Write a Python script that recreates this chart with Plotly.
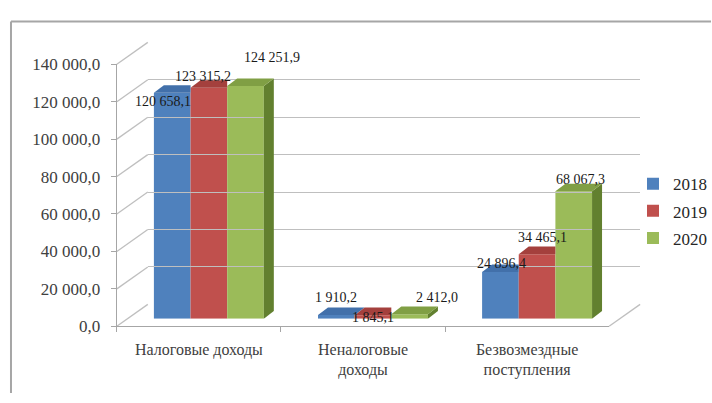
import plotly.graph_objects as go

categories = ["Налоговые доходы", "Неналоговые<br>доходы", "Безвозмездные<br>поступления"]
years = ["2018", "2019", "2020"]
values_2018 = [120658.1, 1910.2, 24896.4]
values_2019 = [123315.2, 1845.1, 34465.1]
values_2020 = [124251.9, 2412.0, 68067.3]
series = [values_2018, values_2019, values_2020]
y_ticks = [0, 20000, 40000, 60000, 80000, 100000, 120000, 140000]

# label placement offsets in pixels (style), per series x category
label_dx = [[-9, 0, 1], [-6, 0, 5], [26, 27, 7]]
label_dy = [[-9, 18, 9], [11, -2, 17], [29, 17, 12]]

front_col = ["#4F81BD", "#C0504D", "#9BBB59"]
top_col = ["#4270AA", "#A4403D", "#809F44"]
side_col = ["#345A8A", "#8A3431", "#62802F"]

W, H = 712, 403
FONT = "Liberation Serif"
YMAX = 140000

def fx(px):
    return px / W

def fy(py):
    return 1 - py / H

front_x = (117, 610); front_y = (333, 58)
bar_dx, bar_dy = 10, 8
back_dx, back_dy = 31, 23
bar_x = (front_x[0] + bar_dx, front_x[1] + bar_dx)
bar_y = (front_y[0] - bar_dy, front_y[1] - bar_dy)
back_x = (front_x[0] + back_dx, front_x[1] + back_dx)
back_y = (front_y[0] - back_dy, front_y[1] - back_dy)

def fmt(v):
    return f"{v:,.1f}".replace(",", " ").replace(".", ",")

fig = go.Figure()
bargap = 0.33
for k, (yr, vals) in enumerate(zip(years, series)):
    fig.add_trace(go.Bar(
        x=categories, y=vals, name=yr, marker=dict(color=front_col[k], line=dict(width=0)),
        xaxis="x", yaxis="y", legendgroup=yr, hoverinfo="y",
    ))

fig.add_trace(go.Scatter(x=categories, y=[None] * 3, xaxis="x2", yaxis="y2",
                         showlegend=False, hoverinfo="skip"))
fig.add_trace(go.Scatter(x=categories, y=[None] * 3, xaxis="x3", yaxis="y3",
                         showlegend=False, hoverinfo="skip"))

shapes = []
grid_col = "#BFBFBF"
front_h = front_y[0] - front_y[1]
for v in y_ticks:
    py0 = front_y[0] - v / YMAX * front_h
    shapes.append(dict(type="line", xref="paper", yref="paper",
                       x0=fx(front_x[0]), y0=fy(py0), x1=fx(back_x[0]), y1=fy(py0 - back_dy),
                       line=dict(color=grid_col, width=1.3), layer="below"))
shapes.append(dict(type="line", xref="paper", yref="paper",
                   x0=fx(front_x[1]), y0=fy(front_y[0]), x1=fx(back_x[1]), y1=fy(front_y[0] - back_dy),
                   line=dict(color=grid_col, width=1.3), layer="below"))
shapes.append(dict(type="line", xref="paper", yref="paper", x0=fx(11), y0=fy(13), x1=1, y1=fy(13),
                   line=dict(color="#A6A6A6", width=2)))
shapes.append(dict(type="line", xref="paper", yref="paper", x0=fx(11), y0=fy(13), x1=fx(11), y1=0,
                   line=dict(color="#A6A6A6", width=2)))

cat_px = (bar_x[1] - bar_x[0]) / len(categories)
ddx = bar_dx / cat_px
ddy = bar_dy * YMAX / (bar_y[0] - bar_y[1])
w = (1 - bargap) / len(series)
annotations = []
for i in range(len(categories)):
    for k, vals in enumerate(series):
        v = vals[i]
        xl = i - (1 - bargap) / 2 + k * w
        xr = xl + w
        nxt = series[k + 1][i] if k + 1 < len(series) else None
        if nxt is None or nxt < v:
            base = 0 if nxt is None else nxt
            side = f"M{xr},{base} L{xr+ddx},{base+ddy} L{xr+ddx},{v+ddy} L{xr},{v} Z"
            shapes.append(dict(type="path", xref="x", yref="y", path=side,
                               fillcolor=side_col[k], line=dict(width=0)))
            top = f"M{xl},{v} L{xr},{v} L{xr+ddx},{v+ddy} L{xl+ddx},{v+ddy} Z"
        else:
            top = f"M{xl},{v} L{xr},{v} L{xr},{v+ddy} L{xl+ddx},{v+ddy} Z"
        shapes.append(dict(type="path", xref="x", yref="y", path=top,
                           fillcolor=top_col[k], line=dict(width=0)))
        annotations.append(dict(x=xl + w / 2, y=v, xref="x", yref="y", text=fmt(v),
                                showarrow=False, yanchor="middle",
                                xshift=label_dx[k][i], yshift=label_dy[k][i],
                                font=dict(family=FONT, size=14, color="#1A1A1A")))

fig.update_layout(
    width=W, height=H, margin=dict(l=0, r=0, t=0, b=0),
    paper_bgcolor="white", plot_bgcolor="rgba(0,0,0,0)",
    barmode="group", bargap=bargap, bargroupgap=0,
    font=dict(family=FONT, size=16, color="#404040"),
    shapes=shapes, annotations=annotations,
    showlegend=True,
    legend=dict(x=fx(634), y=fy(165), xanchor="left", yanchor="top",
                font=dict(family=FONT, size=17, color="#262626"),
                tracegroupgap=2, bgcolor="rgba(0,0,0,0)"),
    xaxis=dict(domain=[fx(bar_x[0]), fx(bar_x[1])], anchor="y", visible=False,
               type="category", range=[-0.5, 2.5], fixedrange=True),
    yaxis=dict(domain=[fy(bar_y[0]), fy(bar_y[1])], anchor="x", visible=False,
               range=[0, YMAX], fixedrange=True),
    xaxis2=dict(domain=[fx(front_x[0]), fx(front_x[1])], anchor="y2", type="category",
                range=[-0.5, 2.5], showline=True, linecolor="#A6A6A6", linewidth=1.3,
                ticks="outside", tickson="boundaries", ticklen=5, tickcolor="#A6A6A6",
                showgrid=False, tickfont=dict(family=FONT, size=16, color="#404040"),
                ticklabelstandoff=8),
    yaxis2=dict(domain=[fy(front_y[0]), fy(front_y[1])], anchor="x2", range=[0, YMAX],
                tickvals=y_ticks, ticktext=[fmt(v) for v in y_ticks],
                showline=True, linecolor="#A6A6A6", linewidth=1.3, ticks="outside",
                ticklen=5, tickcolor="#A6A6A6", showgrid=False, zeroline=False,
                ticklabelstandoff=7,
                tickfont=dict(family=FONT, size=17, color="#404040")),
    xaxis3=dict(domain=[fx(back_x[0]), fx(back_x[1])], anchor="y3", type="category",
                range=[-0.5, 2.5], visible=False),
    yaxis3=dict(domain=[fy(back_y[0]), fy(back_y[1])], anchor="x3", range=[0, YMAX],
                tickvals=y_ticks, showticklabels=False, showgrid=True, gridcolor=grid_col,
                gridwidth=1.3, zeroline=False, showline=False, ticks=""),
)

post = (
    "document.documentElement.style.margin='0';"
    "document.documentElement.style.overflow='hidden';"
    "document.body.style.margin='0';document.body.style.overflow='hidden';"
    "var gd=document.getElementById('{plot_id}');"
    "gd.style.position='fixed';gd.style.left='0px';gd.style.top='0px';"
)
fig.write_html("out.html", config={"displayModeBar": False}, post_script=post)
